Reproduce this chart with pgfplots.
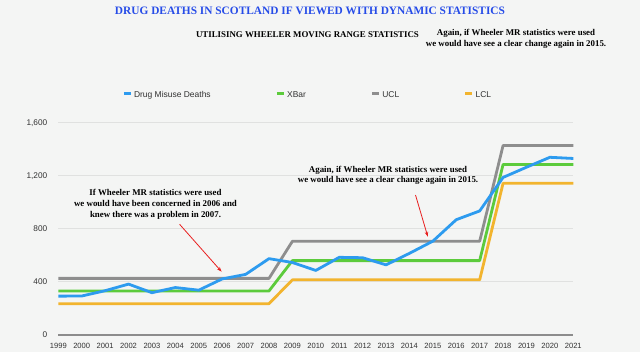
\documentclass[border=0pt]{standalone}
\usepackage{fontspec}
\setmainfont{Liberation Serif}
\newfontfamily\sans{Liberation Sans}
\usepackage{pgfplots}
\pgfplotsset{compat=1.18}
\usetikzlibrary{arrows.meta}
\definecolor{bg}{RGB}{244,245,244}
\definecolor{gridc}{RGB}{224,225,224}
\definecolor{axisgray}{RGB}{140,140,140}
\definecolor{cblue}{RGB}{45,155,239}
\definecolor{cgreen}{RGB}{92,203,60}
\definecolor{cgray}{RGB}{142,142,142}
\definecolor{corange}{RGB}{242,180,46}
\definecolor{titleblue}{RGB}{38,76,232}
\definecolor{textgray}{RGB}{50,50,50}
\definecolor{arrowred}{RGB}{232,30,30}
\begin{document}
\begin{tikzpicture}[x=1bp,y=1bp]
\fill[bg] (0,0) rectangle (640,352);
\useasboundingbox (0,0) rectangle (640,352);
\begin{axis}[
  at={(58.3bp,17.3bp)}, anchor=south west,
  scale only axis, width=515bp, height=212bp,
  xmin=1999, xmax=2021, ymin=0, ymax=1600,
  clip=false,
  axis x line*=bottom, axis y line*=left,
  x axis line style={line width=2bp, color=axisgray, -},
  y axis line style={draw=none},
  xtick={1999,...,2021}, ytick={0,400,800,1200,1600},
  major tick length=0pt,
  ymajorgrids, grid style={line width=0.8bp, color=gridc},
  /pgf/number format/assume math mode=true,
  xticklabel style={/pgf/number format/1000 sep={}, font=\sans\fontsize{7.6}{9}\selectfont, text=textgray, yshift=-4.5bp},
  yticklabel style={/pgf/number format/1000 sep={,}, font=\sans\fontsize{8.3}{9}\selectfont, text=textgray, xshift=-7.5bp},
  legend columns=4,
  legend style={draw=none, fill=none, at={(axis description cs:0.1245,1.127)}, anchor=west,
    font=\sans\fontsize{8.5}{10}\selectfont, text=textgray, inner sep=0pt,
    nodes={text height=6.2bp, text depth=1.8bp},
    /tikz/every even column/.append style={column sep=63bp}},
  legend image code/.code={\draw[line width=2.4bp] (0bp,2.2bp) -- (7bp,2.2bp);},
  every axis plot/.append style={line width=2.8bp, line join=round},
]
\addlegendimage{color=cblue}\addlegendentry{Drug Misuse Deaths}
\addlegendimage{color=cgreen}\addlegendentry{XBar}
\addlegendimage{color=cgray}\addlegendentry{UCL}
\addlegendimage{color=corange}\addlegendentry{LCL}
% LCL
\addplot[color=corange, forget plot] coordinates {
(1999,234)(2000,234)(2001,234)(2002,234)(2003,234)(2004,234)(2005,234)(2006,234)(2007,234)(2008,234)
(2009,414)(2010,414)(2011,414)(2012,414)(2013,414)(2014,414)(2015,414)(2016,414)(2017,414)
(2018,1143)(2019,1143)(2020,1143)(2021,1143)};
% XBar
\addplot[color=cgreen, forget plot] coordinates {
(1999,330)(2000,330)(2001,330)(2002,330)(2003,330)(2004,330)(2005,330)(2006,330)(2007,330)(2008,330)
(2009,559)(2010,559)(2011,559)(2012,559)(2013,559)(2014,559)(2015,559)(2016,559)(2017,559)
(2018,1285)(2019,1285)(2020,1285)(2021,1285)};
% UCL
\addplot[color=cgray, forget plot] coordinates {
(1999,425)(2000,425)(2001,425)(2002,425)(2003,425)(2004,425)(2005,425)(2006,425)(2007,425)(2008,425)
(2009,705)(2010,705)(2011,705)(2012,705)(2013,705)(2014,705)(2015,705)(2016,705)(2017,705)
(2018,1428)(2019,1428)(2020,1428)(2021,1428)};
% Drug misuse deaths
\addplot[color=cblue, forget plot] coordinates {
(1999,291)(2000,292)(2001,332)(2002,382)(2003,317)(2004,356)(2005,336)(2006,421)(2007,455)(2008,574)
(2009,545)(2010,485)(2011,584)(2012,581)(2013,527)(2014,614)(2015,706)(2016,868)(2017,934)
(2018,1187)(2019,1264)(2020,1339)(2021,1330)};
\end{axis}
% titles
\node[font=\fontsize{11.4}{13}\selectfont\bfseries, text=titleblue] at (310,341.3) {DRUG DEATHS IN SCOTLAND IF VIEWED WITH DYNAMIC STATISTICS};
\node[font=\fontsize{8.9}{10}\selectfont\bfseries, text=black] at (307.5,317) {UTILISING WHEELER MOVING RANGE STATISTICS};
\node[font=\fontsize{8.9}{10.8}\selectfont\bfseries, text=black, align=center, inner sep=0pt] at (516,313.5) {Again, if Wheeler MR statistics were used\\we would have see a clear change again in 2015.};
% annotations
\node[font=\fontsize{8.9}{10.7}\selectfont\bfseries, text=black, align=center, inner sep=0pt] at (388,176.7) {Again, if Wheeler MR statistics were used\\we would have see a clear change again in 2015.};
\node[font=\fontsize{8.9}{10.9}\selectfont\bfseries, text=black, align=center, inner sep=0pt] at (155.5,148) {If Wheeler MR statistics were used\\we would have been concerned in 2006 and\\knew there was a problem in 2007.};
\draw[arrowred, line width=0.8bp, -{Stealth[length=5bp,width=3.5bp]}] (179.6,127.7) -- (221.6,80.3);
\draw[arrowred, line width=0.8bp, -{Stealth[length=5bp,width=3.5bp]}] (415.5,157) -- (427.8,115.3);
\end{tikzpicture}
\end{document}
